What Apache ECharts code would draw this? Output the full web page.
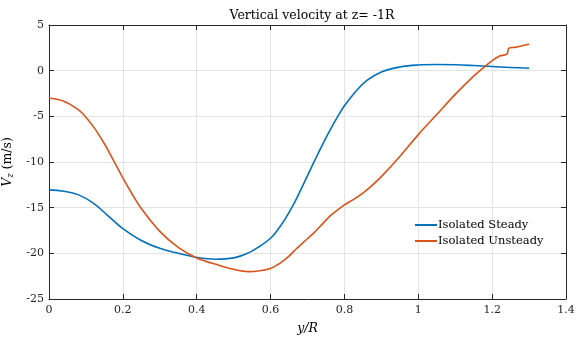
<!DOCTYPE html>
<html><head><meta charset="utf-8">
<script src="https://cdn.jsdelivr.net/npm/echarts@6/dist/echarts.min.js"></script>
<style>html,body{margin:0;padding:0;background:#fff}#c{width:576px;height:340px}</style>
</head><body><div id="c"></div>
<script>
const steadyX = [0,0.04,0.08,0.12,0.16,0.2,0.25,0.3,0.35,0.4,0.45,0.5,0.54,0.57,0.6,0.62,0.64,0.66,0.68,0.7,0.72,0.74,0.76,0.78,0.8,0.83,0.86,0.9,0.95,1.0,1.05,1.1,1.15,1.2,1.25,1.3];
const steadyY = [-13.05,-13.2,-13.6,-14.5,-15.9,-17.3,-18.6,-19.45,-20.0,-20.45,-20.65,-20.5,-19.95,-19.25,-18.35,-17.4,-16.2,-14.8,-13.2,-11.5,-9.8,-8.15,-6.6,-5.15,-3.85,-2.3,-1.1,-0.15,0.4,0.62,0.67,0.64,0.56,0.46,0.34,0.27];
const unsteadyX = [0,0.04,0.08,0.1,0.125,0.15,0.175,0.2,0.225,0.25,0.3,0.35,0.4,0.46,0.5,0.54,0.57,0.6,0.625,0.65,0.67,0.7,0.72,0.74,0.76,0.78,0.8,0.825,0.85,0.875,0.9,0.95,1.0,1.05,1.1,1.15,1.18,1.2,1.22,1.24,1.245,1.26,1.3];
const unsteadyY = [-3.0,-3.35,-4.3,-5.1,-6.4,-8.0,-9.85,-11.75,-13.5,-15.1,-17.6,-19.35,-20.5,-21.3,-21.75,-22.0,-21.9,-21.65,-21.1,-20.3,-19.5,-18.4,-17.65,-16.8,-15.95,-15.3,-14.7,-14.1,-13.4,-12.55,-11.6,-9.4,-7.0,-4.8,-2.6,-0.6,0.45,1.1,1.6,1.8,2.45,2.55,2.9];
const seriesNames = ['Isolated Steady','Isolated Unsteady'];
const titleText = 'Vertical velocity at z= -1R';

const font = 'DejaVu Serif';
const axisColor = '#262626';
const zip = (xs, ys) => xs.map((x, i) => [x, ys[i]]);

const baseAxis = {
  axisLine: {show: true, onZero: false, lineStyle: {color: axisColor, width: 1}},
  axisTick: {show: true, inside: true, length: 5, lineStyle: {color: axisColor}},
};
const chart = echarts.init(document.getElementById('c'), null, {renderer: 'canvas'});
chart.setOption({
  animation: false,
  title: {text: titleText, left: 307, top: 4, textAlign: 'center',
    textStyle: {fontFamily: font, fontSize: 12.5, fontWeight: 'normal', color: '#000'}},
  grid: {left: 49, right: 10, top: 25, bottom: 41, outerBoundsMode: 'none', containLabel: false},
  legend: {
    data: seriesNames, orient: 'vertical', left: 410, top: 214, itemGap: 4,
    itemWidth: 22, itemHeight: 2, icon: 'rect',
    textStyle: {fontFamily: font, fontSize: 11.5, color: '#000', padding: [0, 0, 0, -4]}
  },
  xAxis: [
    Object.assign({}, baseAxis, {type: 'value', min: 0, max: 1.4, interval: 0.2, position: 'bottom',
      name: 'y/R', nameLocation: 'middle', nameGap: 23,
      nameTextStyle: {fontFamily: font, fontSize: 12.5, fontStyle: 'italic', color: '#000'},
      axisLabel: {fontFamily: font, fontSize: 11, color: '#262626', margin: 6},
      splitLine: {show: true, lineStyle: {color: '#e3e3e3', width: 1}}}),
    Object.assign({}, baseAxis, {type: 'value', min: 0, max: 1.4, interval: 0.2, position: 'top',
      axisLabel: {show: false}, splitLine: {show: false}})
  ],
  yAxis: [
    Object.assign({}, baseAxis, {type: 'value', min: -25, max: 5, interval: 5, position: 'left',
      name: '{i|V}{s|z} (m/s)', nameLocation: 'middle', nameGap: 30, nameRotate: 90,
      nameTextStyle: {fontFamily: font, fontSize: 12.5, color: '#000',
        rich: {i: {fontFamily: font, fontSize: 12.5, fontStyle: 'italic', color: '#000'},
               s: {fontFamily: font, fontSize: 8.5, fontStyle: 'italic', color: '#000', verticalAlign: 'bottom', padding: [6, 0, 0, 0]}}},
      axisLabel: {fontFamily: font, fontSize: 11, color: '#262626', margin: 5},
      splitLine: {show: true, lineStyle: {color: '#e3e3e3', width: 1}}}),
    Object.assign({}, baseAxis, {type: 'value', min: -25, max: 5, interval: 5, position: 'right',
      axisLabel: {show: false}, splitLine: {show: false}})
  ],
  series: [
    {name: seriesNames[0], type: 'line', data: zip(steadyX, steadyY), smooth: 0.4, showSymbol: false,
      lineStyle: {color: '#0072BD', width: 1.6}, itemStyle: {color: '#0072BD'}},
    {name: seriesNames[1], type: 'line', data: zip(unsteadyX, unsteadyY), smooth: 0.3, showSymbol: false,
      lineStyle: {color: '#D95319', width: 1.6}, itemStyle: {color: '#D95319'}}
  ]
});
</script></body></html>
